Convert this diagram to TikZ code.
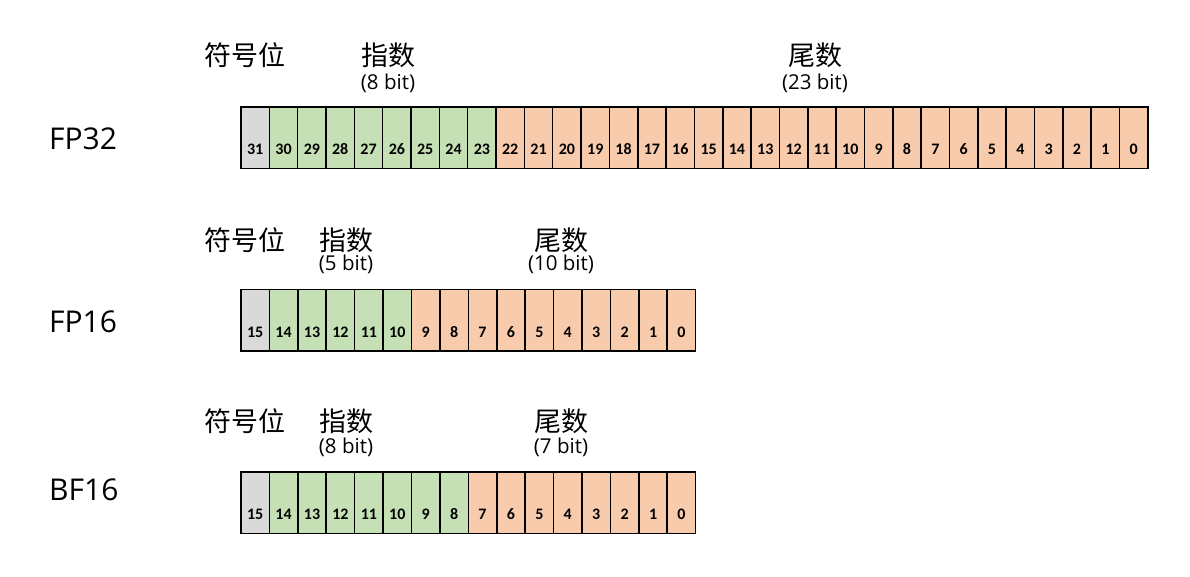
\documentclass[tikz,border=0pt]{standalone}
\usepackage{fontspec}
\setmainfont{Open Sans}
\newfontfamily\cjk{Noto Sans CJK SC}
\newfontfamily\numfont{Carlito}
\definecolor{signc}{HTML}{D9D9D9}
\definecolor{expc}{HTML}{C5E0B4}
\definecolor{manc}{HTML}{F8CBAD}
\tikzset{
  bitcell/.style={draw=black, line width=1.5pt, minimum width=28.35pt, minimum height=61.5pt, inner sep=0pt, outer sep=0pt, anchor=north west},
  bitnum/.style={font=\numfont\bfseries\fontsize{16}{17}\selectfont, inner sep=0pt},
  fmtlabel/.style={font=\fontsize{30}{32}\selectfont, anchor=west, inner sep=0pt},
  cnlabel/.style={font=\cjk\fontsize{27}{29}\selectfont, inner sep=0pt},
  bitlabel/.style={font=\fontsize{20.5}{22}\selectfont, inner sep=0pt},
}
\begin{document}
\begin{tikzpicture}[x=1pt,y=-1pt]
\useasboundingbox (0,0) rectangle (1190,576);
% ---------- FP32 ----------
\node[fmtlabel] (l32) at (49,139) {FP32};
\node[cnlabel] (s32) at (245,55) {符号位};
\node[cnlabel] (e32) at (388,55) {指数};
\node[bitlabel] (eb32) at (388,83) {(8 bit)};
\node[cnlabel] (m32) at (815,55) {尾数};
\node[bitlabel] (mb32) at (815,83) {(23 bit)};
\foreach \i in {0,...,31}{
  \pgfmathtruncatemacro{\b}{31-\i}
  \ifnum\i=0 \def\fc{signc}\else\ifnum\i<9 \def\fc{expc}\else\def\fc{manc}\fi\fi
  \node[bitcell, fill=\fc] (a\b) at ({241+28.34*\i},107) {};
  \node[bitnum] (an\b) at ([yshift=19pt]a\b.south) {\b};
}
% ---------- FP16 ----------
\node[fmtlabel] (l16) at (49,322) {FP16};
\node[cnlabel] (s16) at (245,240) {符号位};
\node[cnlabel] (e16) at (346,240) {指数};
\node[bitlabel] (eb16) at (346,264) {(5 bit)};
\node[cnlabel] (m16) at (561,240) {尾数};
\node[bitlabel] (mb16) at (561,264) {(10 bit)};
\foreach \i in {0,...,15}{
  \pgfmathtruncatemacro{\b}{15-\i}
  \ifnum\i=0 \def\fc{signc}\else\ifnum\i<6 \def\fc{expc}\else\def\fc{manc}\fi\fi
  \node[bitcell, fill=\fc] (h\b) at ({241+28.42*\i},289.5) {};
  \node[bitnum] (hn\b) at ([yshift=19pt]h\b.south) {\b};
}
% ---------- BF16 ----------
\node[fmtlabel] (lbf) at (49,490) {BF16};
\node[cnlabel] (sbf) at (245,421) {符号位};
\node[cnlabel] (ebf) at (346,421) {指数};
\node[bitlabel] (ebbf) at (346,447) {(8 bit)};
\node[cnlabel] (mbf) at (561,421) {尾数};
\node[bitlabel] (mbbf) at (561,447) {(7 bit)};
\foreach \i in {0,...,15}{
  \pgfmathtruncatemacro{\b}{15-\i}
  \ifnum\i=0 \def\fc{signc}\else\ifnum\i<8 \def\fc{expc}\else\def\fc{manc}\fi\fi
  \node[bitcell, fill=\fc] (g\b) at ({241+28.42*\i},472) {};
  \node[bitnum] (gn\b) at ([yshift=19pt]g\b.south) {\b};
}
\end{tikzpicture}
\end{document}
